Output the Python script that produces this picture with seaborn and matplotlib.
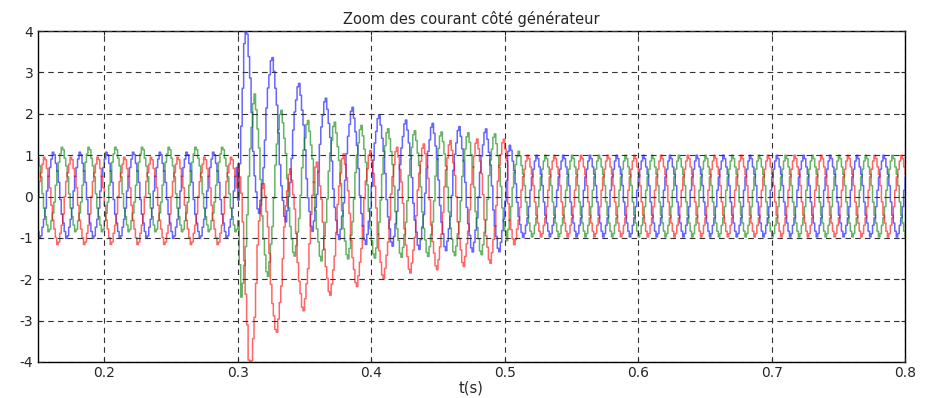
import numpy as np
import pandas as pd
import matplotlib
matplotlib.use("Agg")
import matplotlib.pyplot as plt
import seaborn as sns

# ---------------- data ----------------
phase_names = ["ia", "ib", "ic"]            # blue, green, red
phase_colors = ["#0000ff", "#008000", "#ff0000"]
f0 = 50.0                                   # Hz
t_start, t_end = 0.15, 0.80
t_fault, t_clear = 0.300, 0.502             # s
# time (mod one period) of the blue-phase positive peak
peak_offset_pre, peak_offset_fault, peak_offset_post = 0.0014, 0.0053, 0.0035

# steady peaks / troughs per phase (blue, green, red)
pre_peak = [1.08, 1.20, 0.96]
pre_trough = [-1.02, -0.86, -1.17]
post_peak = [1.00, 1.00, 1.00]
post_trough = [-0.98, -0.98, -0.98]

# fault period, one value per cycle
blue_fault_peaks = [4.40, 3.38, 2.75, 2.39, 2.17, 1.99, 1.86, 1.78, 1.70, 1.65]
blue_fault_troughs = [-0.42, -0.62, -0.85, -1.05, -1.17, -1.21, -1.29, -1.32, -1.35, -1.35]
green_fault_peaks = [2.50, 2.10, 1.85, 1.81, 1.73, 1.65, 1.60, 1.57, 1.55, 1.53]
green_fault_troughs = [-2.45, -1.95, -1.45, -1.57, -1.52, -1.50, -1.48, -1.46, -1.44, -1.42]
red_fault_peaks = [0.32, 0.68, 0.84, 1.04, 1.12, 1.20, 1.28, 1.36, 1.40, 1.40]
red_fault_troughs = [-4.45, -3.30, -2.78, -2.40, -2.19, -2.00, -1.86, -1.78, -1.70, -1.63]

x_ticks = [0.2, 0.3, 0.4, 0.5, 0.6, 0.7, 0.8]
y_ticks = [-4, -3, -2, -1, 0, 1, 2, 3, 4]
title = "Zoom des courant côté générateur"
x_label = "t(s)"

# ---------------- build the sampled waveforms ----------------
fault_peaks = [blue_fault_peaks, green_fault_peaks, red_fault_peaks]
fault_troughs = [blue_fault_troughs, green_fault_troughs, red_fault_troughs]
trough_side = [+1, -1, -1]       # trough after (+) or before (-) each peak
T = 1.0 / f0
Ts = T / 18.0                    # sample-and-hold period
t = np.arange(t_start - Ts, t_end + Ts, Ts)
a5 = 0.05


def shape(theta):
    return (np.cos(theta) + a5 * np.cos(5 * theta)) / (1 + a5)


frames = []
for i, name in enumerate(phase_names):
    lag = i * T / 3.0
    tp = t_fault + peak_offset_fault + lag + T * np.arange(len(fault_peaks[i]))
    tt = tp + trough_side[i] * T / 2
    up_t = np.concatenate([[0.0, t_fault], tp, [t_clear + 0.012, 1.0]])
    up_v = np.concatenate([[pre_peak[i]] * 2, fault_peaks[i], [post_peak[i]] * 2])
    order = np.argsort(tt)
    lo_t = np.concatenate([[0.0, t_fault], tt[order], [t_clear + 0.012, 1.0]])
    lo_v = np.concatenate([[pre_trough[i]] * 2, np.array(fault_troughs[i])[order],
                           [post_trough[i]] * 2])
    off = np.where(t < t_fault, peak_offset_pre,
                   np.where(t < t_clear, peak_offset_fault, peak_offset_post)) + lag
    s = shape(2 * np.pi * f0 * (t - off))
    up = np.interp(t, up_t, up_v)
    lo = np.interp(t, lo_t, lo_v)
    y = (up + lo) / 2 + (up - lo) / 2 * s
    frames.append(pd.DataFrame({"t": t, "i": y, "phase": name}))
df = pd.concat(frames, ignore_index=True)

# ---------------- draw ----------------
sns.set_style("white")
plt.rcParams["font.family"] = ["DejaVu Sans"]
plt.rcParams["lines.scale_dashes"] = False

fig = plt.figure(figsize=(9.26, 3.98), dpi=100)
ax = fig.add_axes([0.0405, 0.0905, 0.9370, 0.8315])

sns.lineplot(data=df, x="t", y="i", hue="phase", palette=phase_colors,
             hue_order=phase_names, estimator=None, sort=False, legend=False,
             drawstyle="steps-post", linewidth=1.1, alpha=0.6, ax=ax)

ax.set_xlim(t_start, t_end)
ax.set_ylim(-4, 4)
ax.set_xticks(x_ticks)
ax.set_xticklabels([f"{v:.1f}" for v in x_ticks])
ax.set_yticks(y_ticks)
ax.set_yticklabels([str(v) for v in y_ticks])
ax.grid(True, color="#333333", linestyle=(0, (4.0, 3.0)), linewidth=0.8)
ax.set_axisbelow(False)
for sp in ax.spines.values():
    sp.set_color("black")
    sp.set_linewidth(1.0)
ax.tick_params(direction="in", length=3, width=0.8, labelsize=10,
               top=True, right=True, bottom=True, left=True, pad=3)
ax.set_title(title, fontsize=10.5, pad=5)
ax.set_xlabel(x_label, fontsize=10.5, labelpad=0)
ax.set_ylabel("")

fig.savefig("out.png", dpi=100)
